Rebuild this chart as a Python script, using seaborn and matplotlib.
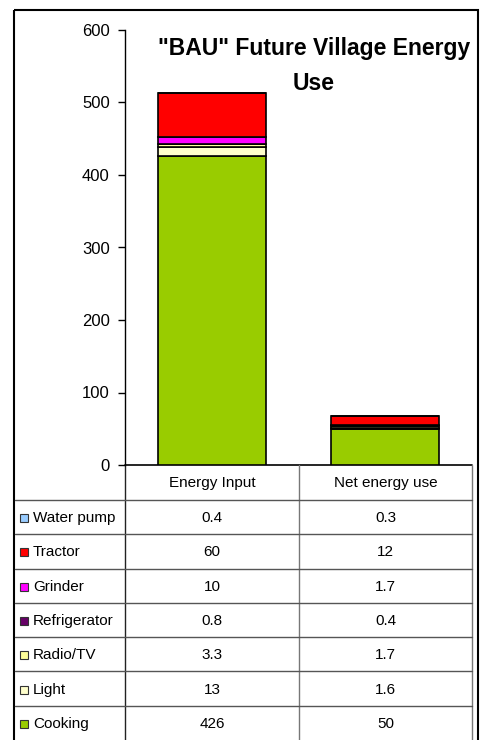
import matplotlib
matplotlib.use("Agg")
import matplotlib.pyplot as plt
import seaborn as sns
import pandas as pd
from matplotlib.patches import Rectangle

sns.set_style("white")
plt.rcParams['font.family'] = ['Liberation Sans', 'DejaVu Sans']
plt.rcParams['text.color'] = 'black'
plt.rcParams['ytick.color'] = 'black'
plt.rcParams['axes.edgecolor'] = 'black'

# data
groups = ["Energy Input", "Net energy use"]
series = ["Cooking", "Light", "Radio/TV", "Refrigerator", "Grinder", "Tractor", "Water pump"]
energy_input = [426, 13, 3.3, 0.8, 10, 60, 0.4]
net_energy = [50, 1.6, 1.7, 0.4, 1.7, 12, 0.3]
labels_input = ["426", "13", "3.3", "0.8", "10", "60", "0.4"]
labels_net = ["50", "1.6", "1.7", "0.4", "1.7", "12", "0.3"]
colors = ["#99CC00", "#FFFFCC", "#FFFF99", "#660066", "#FF00FF", "#FF0000", "#99CCFF"]
yticks = [0, 100, 200, 300, 400, 500, 600]

df = pd.DataFrame({"group": groups * len(series),
                   "series": [s for s in series for _ in groups],
                   "value": [v for pair in zip(energy_input, net_energy) for v in pair]})

W, H = 482, 740
fig = plt.figure(figsize=(W / 100, H / 100), dpi=100)

# background canvas in pixel coords for frame and table
bg = fig.add_axes([0, 0, 1, 1])
bg.set_xlim(0, W)
bg.set_ylim(H, 0)
bg.axis("off")

ax = fig.add_axes([125 / W, (H - 465) / H, (472 - 125) / W, (465 - 30) / H])
bottoms = [0.0, 0.0]
for s, c in zip(series, colors):
    sub = df[df["series"] == s]
    sns.barplot(data=sub, x="group", y="value", order=groups, color=c,
                bottom=bottoms, width=0.62, edgecolor="black", linewidth=1.2,
                ax=ax, saturation=1)
    bottoms = [b + v for b, v in zip(bottoms, sub["value"].tolist())]

ax.set_ylim(0, 600)
ax.set_xlim(-0.5, 1.5)
ax.set_yticks(yticks)
ax.tick_params(axis="y", labelsize=12, length=5, width=1, direction="out", left=True,
               pad=6, colors="black")
ax.set_xticks([])
ax.set_xlabel("")
ax.set_ylabel("")
for side in ["top", "right", "bottom"]:
    ax.spines[side].set_visible(False)
ax.spines["left"].set_linewidth(1)
ax.spines["left"].set_color("black")
ax.patch.set_alpha(0)

ax.text(0.545, 0.985, '"BAU" Future Village Energy\nUse', transform=ax.transAxes,
        ha="center", va="top", fontsize=16.5, fontweight="bold", linespacing=1.7,
        color="black")

# outer frame
bg.add_patch(Rectangle((14, 10), 464, 740, fill=False, edgecolor="black", lw=1.5))

# table
x_left, x_c1, x_c2, x_right = 15, 125, 299, 472
y_head = 465
row_h = (740 - 500) / 7
line_c = "#555555"
bg.plot([x_c1, x_right], [y_head, y_head], color="black", lw=1.2)
bg.plot([x_c1, x_c1], [y_head, H], color="#222222", lw=1)
bg.plot([x_c2, x_c2], [y_head, H], color="#777777", lw=1)
bg.plot([x_right, x_right], [y_head, H], color="#777777", lw=1)
for i, g in enumerate(groups):
    cx = (x_c1 + x_c2) / 2 if i == 0 else (x_c2 + x_right) / 2
    bg.text(cx, (y_head + 500) / 2 + 1, g, ha="center", va="center", fontsize=11)

row_order = list(range(len(series)))[::-1]  # top row is last series
for r, idx in enumerate(row_order):
    y0 = 500 + r * row_h
    bg.plot([x_left, x_right], [y0, y0], color=line_c, lw=1)
    yc = y0 + row_h / 2 + 1
    bg.add_patch(Rectangle((20, yc - 4), 8, 8, facecolor=colors[idx],
                           edgecolor="#333333", lw=0.8))
    bg.text(33, yc, series[idx], ha="left", va="center", fontsize=11)
    bg.text((x_c1 + x_c2) / 2, yc, labels_input[idx], ha="center", va="center", fontsize=11)
    bg.text((x_c2 + x_right) / 2, yc, labels_net[idx], ha="center", va="center", fontsize=11)

fig.savefig("out.png", dpi=100)
